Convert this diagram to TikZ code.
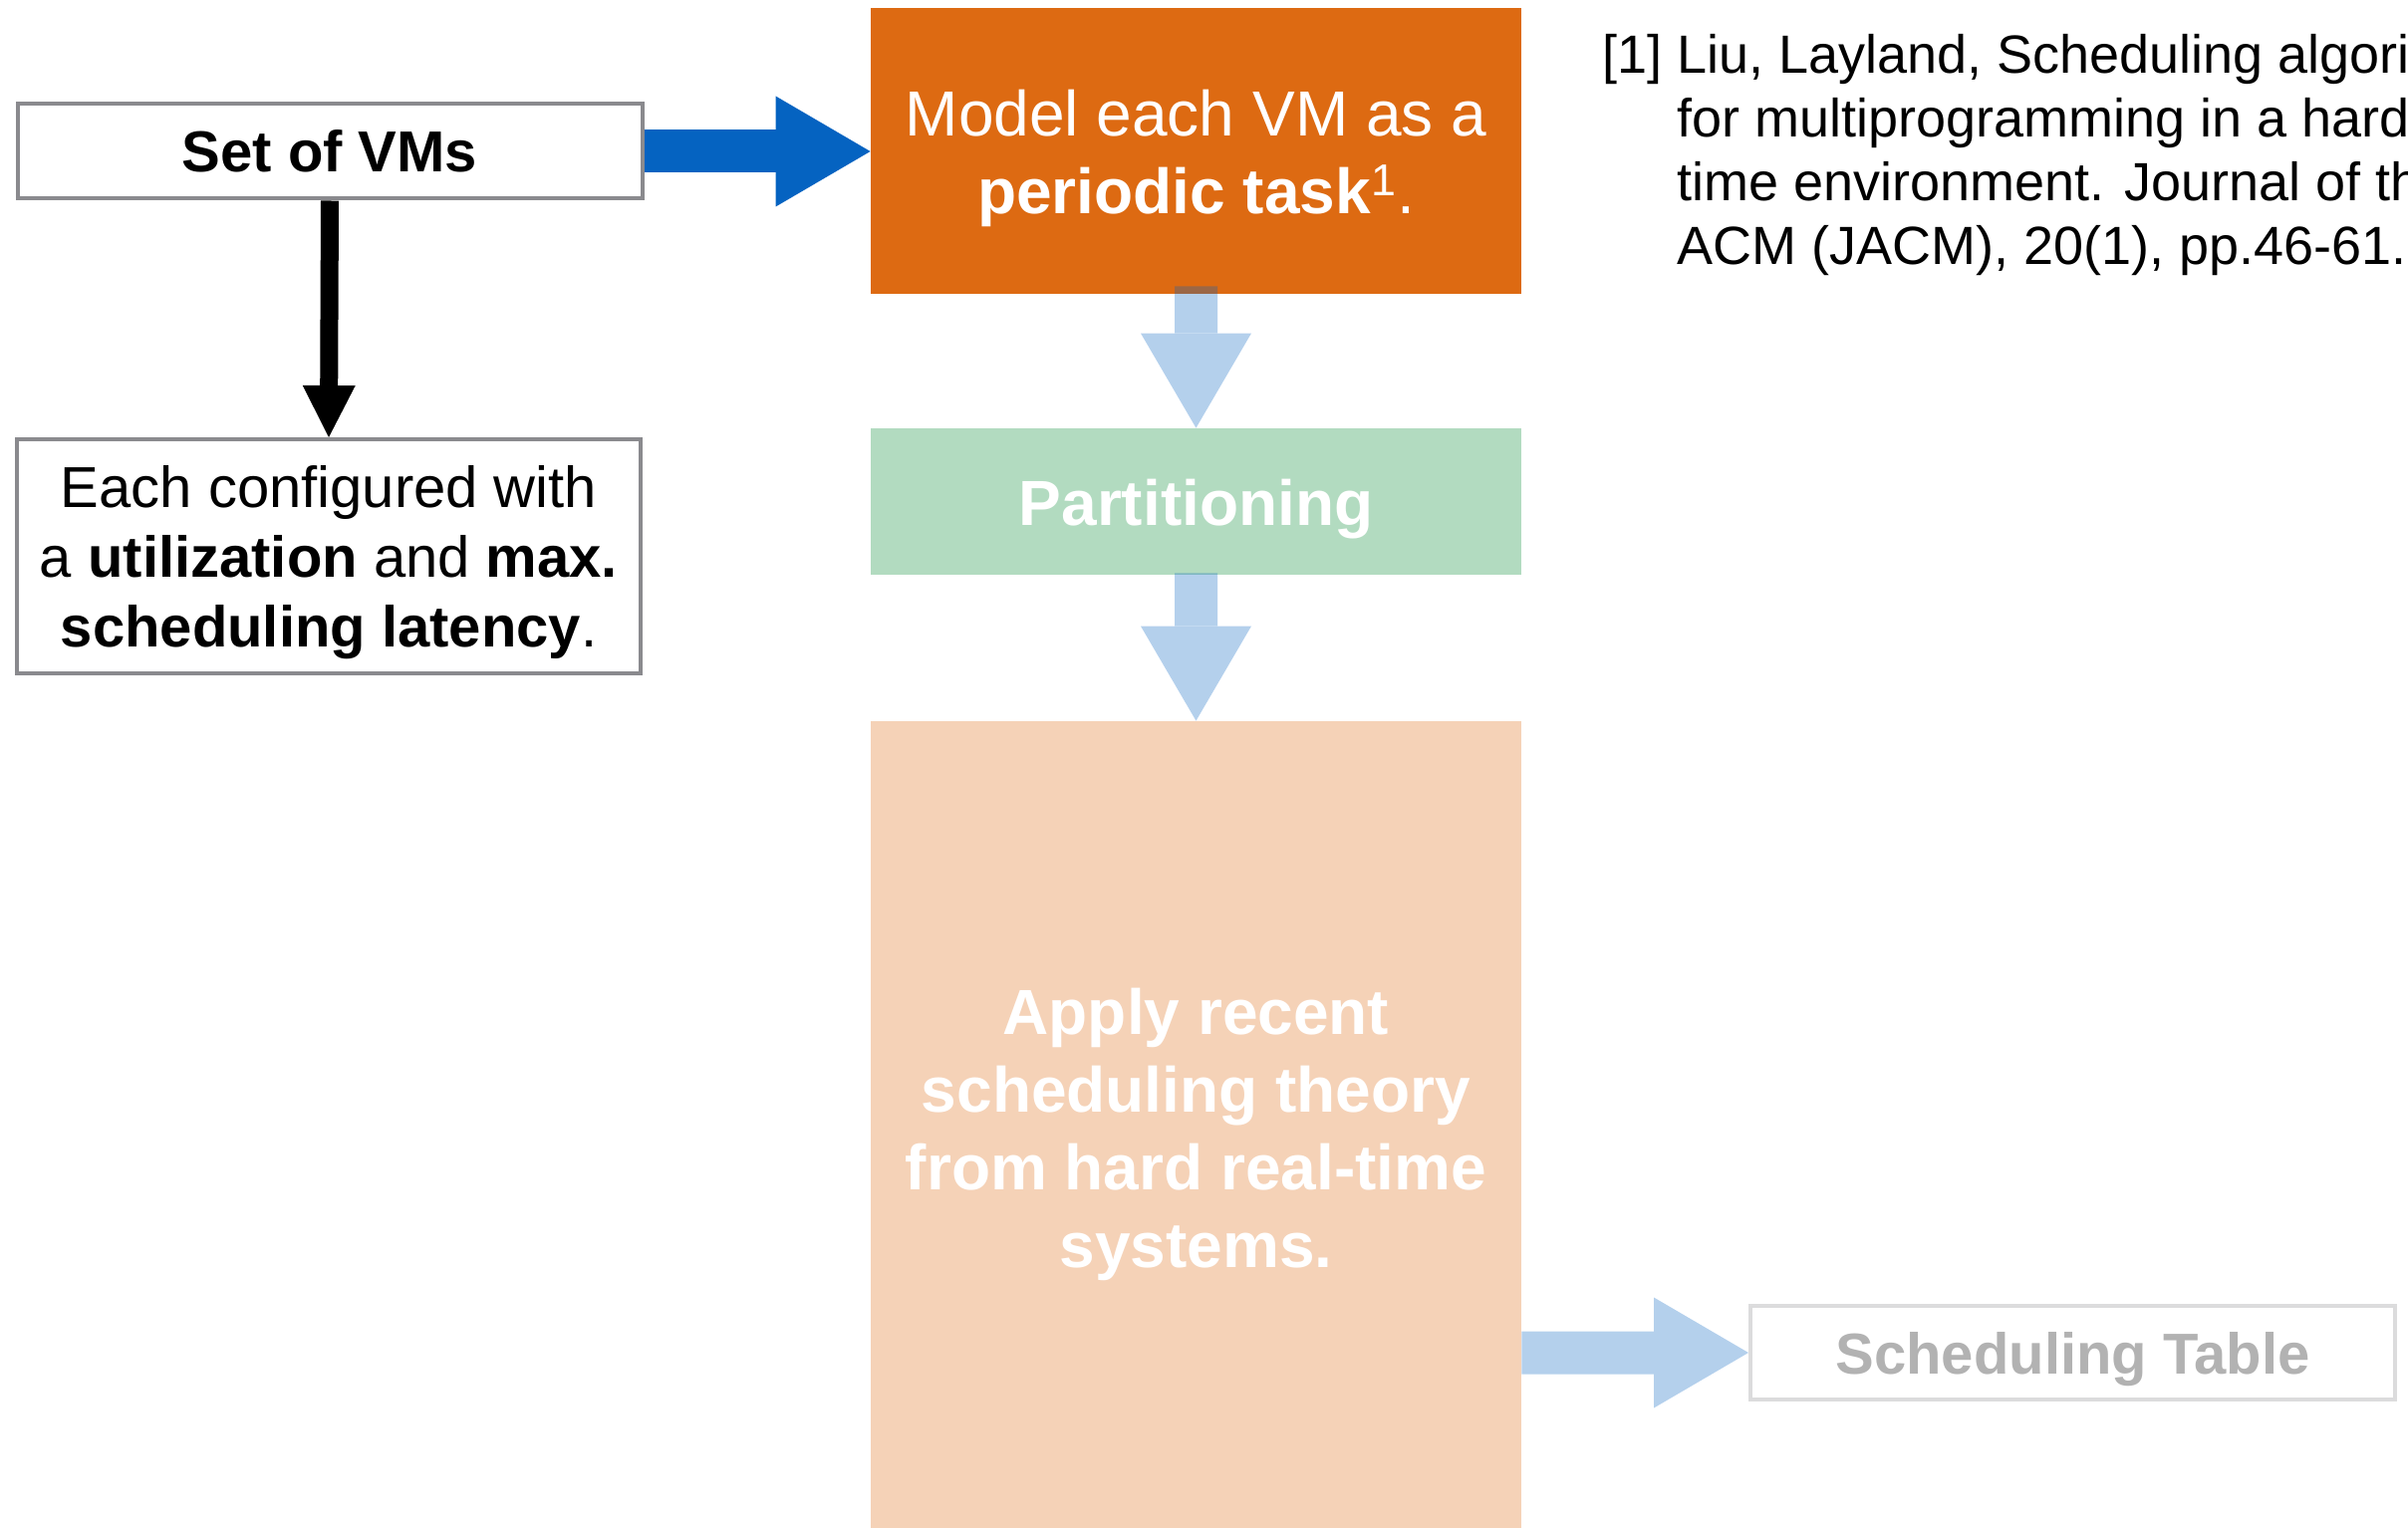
\documentclass[tikz,border=0pt]{standalone}
\usepackage{fontspec}
\setmainfont{Liberation Sans}
\usetikzlibrary{arrows.meta}
\definecolor{vmblue}{RGB}{5,99,193}
\definecolor{taskorange}{RGB}{221,106,18}
\definecolor{partgreen}{RGB}{0,135,48}
\definecolor{boxgray}{RGB}{138,138,142}
\newcommand{\lowstrut}{\rule{0pt}{0.95em}}
\begin{document}
\begin{tikzpicture}[x=0.5pt,y=-0.5pt,
  inbox/.style={draw=boxgray,line width=2pt,fill=white,align=center,inner sep=0pt},
  stagebox/.style={align=center,inner sep=0pt,text=white,minimum width=326.5pt},
  bigfont/.style={font=\fontsize{32}{39}\selectfont},
  smallfont/.style={font=\fontsize{29}{35}\selectfont},
  vmarrow/.style={draw=vmblue,line width=21.5pt,-{Triangle[length=47.5pt,width=55.5pt,line width=0pt]}},
  cfgarrow/.style={draw=black,line width=9pt,-{Triangle[length=26pt,width=26.5pt,line width=0pt]}},
  fadearrow/.style={draw=vmblue,line width=21.5pt,-{Triangle[length=47.5pt,width=55.5pt,line width=0pt]}}]
\useasboundingbox (0,0) rectangle (2417,1534);
% input side
\node[inbox,smallfont,minimum width=313.5pt,minimum height=47.5pt] (vms) at (331,152) {\textbf{Set of VMs}};
\node[inbox,smallfont,minimum width=313pt,minimum height=117.5pt] (cfg) at (330,558.5) {\lowstrut Each configured with\\a \textbf{utilization} and \textbf{max.}\\\textbf{scheduling latency}.};
% stages
\node[stagebox,bigfont,fill=taskorange,minimum height=143.5pt] (model) at (1200.5,151.5) {\lowstrut Model each VM as a\\\textbf{periodic task}\textsuperscript{1}.};
\node[stagebox,bigfont,fill=partgreen,fill opacity=0.3,text opacity=1,minimum height=73.5pt] (part) at (1200.5,503.5) {\lowstrut\textbf{Partitioning}};
\node[stagebox,bigfont,fill=taskorange,fill opacity=0.3,text opacity=1,minimum height=408pt] (apply) at (1200.5,1132) {\lowstrut\textbf{Apply recent}\\\textbf{scheduling theory}\\\textbf{from hard real-time}\\\textbf{systems.}};
\node[inbox,smallfont,draw opacity=0.3,text opacity=0.3,minimum width=323.5pt,minimum height=47pt] (table) at (2080.5,1358) {\lowstrut\textbf{Scheduling Table}};
% reference
\node[anchor=north west,inner sep=0pt,font=\fontsize{27}{32}\selectfont] (cite) at (1608,28) {\begin{tabular}{@{}l@{\hspace{7.5pt}}l@{}}{[1]} & Liu, Layland, Scheduling algorithms\\
 & for multiprogramming in a hard-real-\\
 & time environment. Journal of the\\
 & ACM (JACM), 20(1), pp.46-61.\end{tabular}};
% arrows
\draw[vmarrow] (vms.east) -- (vms.east -| model.west);
\draw[cfgarrow] (vms.south) -- (cfg.north);
\begin{scope}[transparency group,opacity=0.3]
\draw[fadearrow] ([yshift=4pt]model.south) -- (part.north);
\end{scope}
\begin{scope}[transparency group,opacity=0.3]
\draw[fadearrow] ([yshift=1pt]part.south) -- (apply.north);
\end{scope}
\begin{scope}[transparency group,opacity=0.3]
\draw[fadearrow] (apply.east |- table.west) -- (table.west);
\end{scope}
\end{tikzpicture}
\end{document}
